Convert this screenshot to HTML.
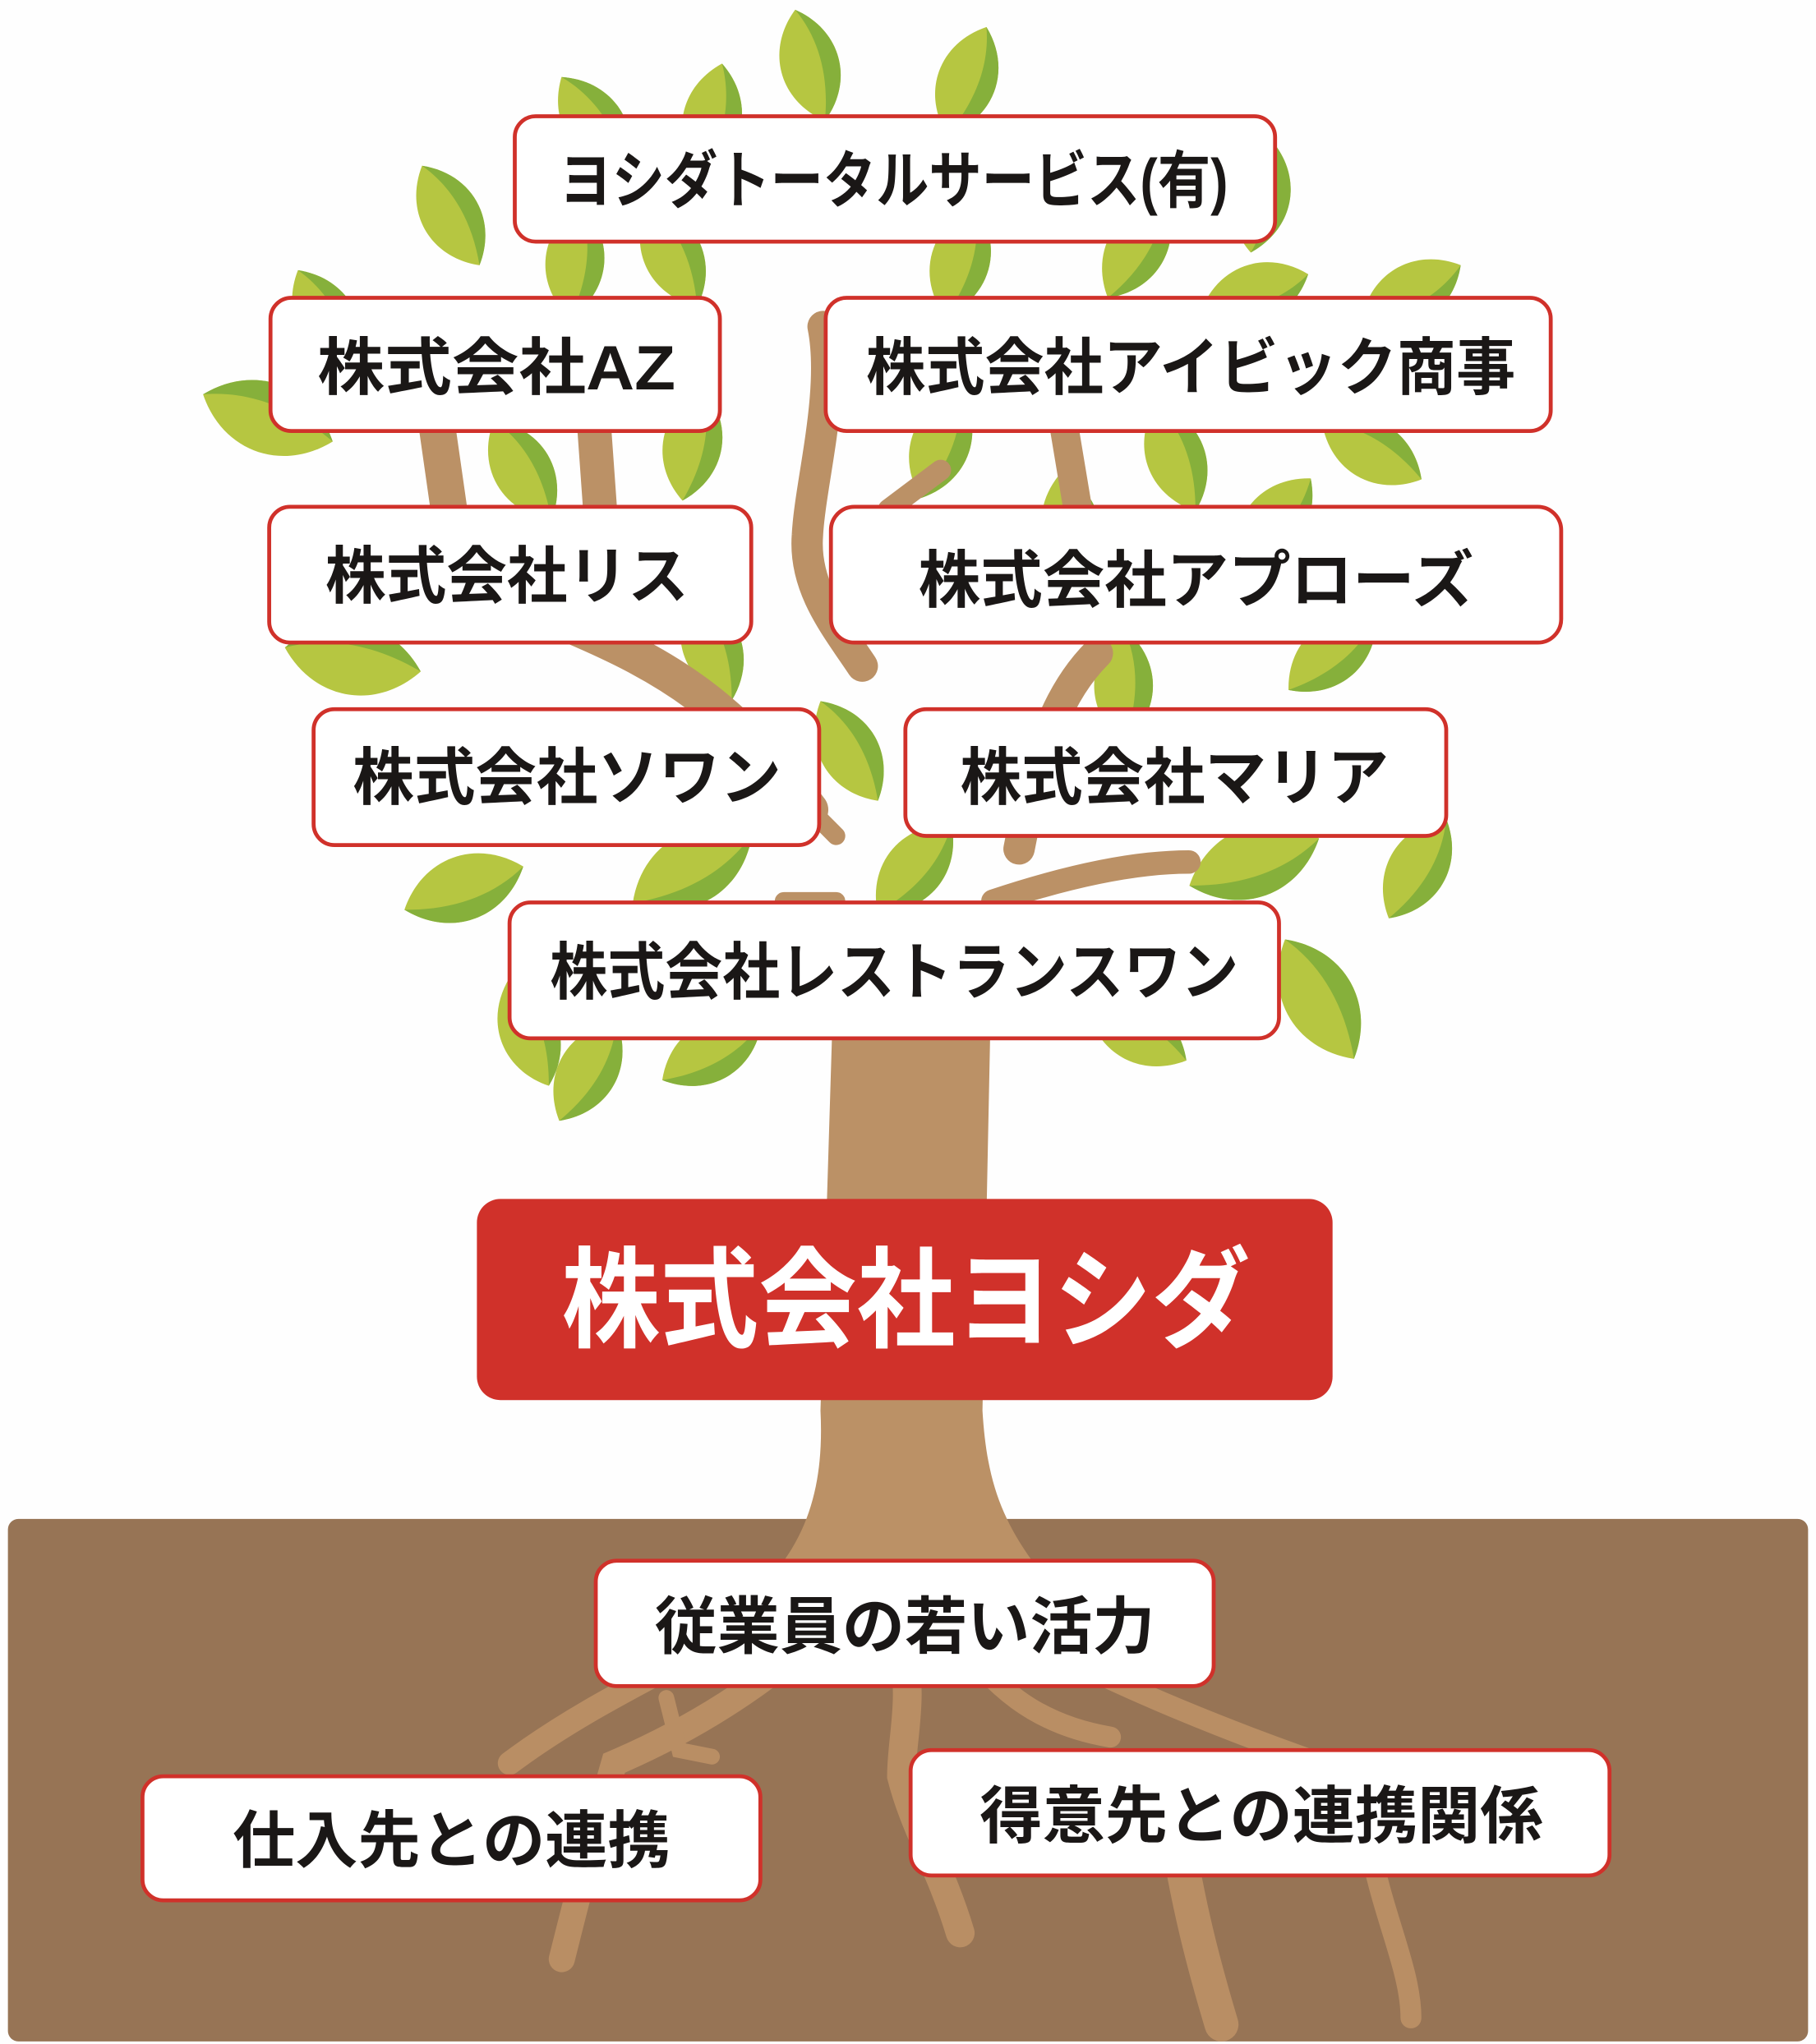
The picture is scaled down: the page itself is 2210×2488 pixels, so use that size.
<!DOCTYPE html>
<html><head><meta charset="utf-8"><style>
html,body{margin:0;padding:0;background:#fefefe;}
svg{display:block;}
text{font-family:"Liberation Sans","Noto Sans CJK JP",sans-serif;font-weight:bold;fill:#1a1716;}
</style></head><body>
<svg width="2210" height="2488" viewBox="0 0 1390 1565" xmlns="http://www.w3.org/2000/svg">
<defs>
<g id="lf">
<path d="M0,-44 C30,-20 30,20 0,44 C-30,20 -30,-20 0,-44Z" fill="#b6c641"/>
<path d="M0,-44 C30,-20 30,20 0,44 C12,12 12,-18 0,-44Z" fill="#86b03b"/>
</g>
</defs>
<rect width="1390" height="1565" fill="#fefefe"/>
<g>
<use href="#lf" transform="translate(620,50) rotate(-15)"/>
<use href="#lf" transform="translate(740,62) rotate(20)"/>
<use href="#lf" transform="translate(455,95) rotate(-35)"/>
<use href="#lf" transform="translate(545,92) rotate(10)"/>
<use href="#lf" transform="translate(345,165) rotate(-30)"/>
<use href="#lf" transform="translate(440,200) rotate(5)"/>
<use href="#lf" transform="translate(515,195) rotate(-25)"/>
<use href="#lf" transform="translate(735,200) rotate(15)"/>
<use href="#lf" transform="translate(870,190) rotate(30)"/>
<use href="#lf" transform="translate(965,150) rotate(10)"/>
<use href="#lf" transform="translate(960,225) rotate(70)"/>
<use href="#lf" transform="translate(1080,225) rotate(60)"/>
<use href="#lf" transform="translate(205,320) rotate(-70) scale(1.2)"/>
<use href="#lf" transform="translate(250,245) rotate(-30)"/>
<use href="#lf" transform="translate(530,340) rotate(10)"/>
<use href="#lf" transform="translate(400,360) rotate(-30)"/>
<use href="#lf" transform="translate(720,340) rotate(20)"/>
<use href="#lf" transform="translate(900,350) rotate(-20)"/>
<use href="#lf" transform="translate(1050,345) rotate(-60)"/>
<use href="#lf" transform="translate(975,400) rotate(40)"/>
<use href="#lf" transform="translate(820,405) rotate(-10)"/>
<use href="#lf" transform="translate(270,505) rotate(-80) scale(1.2)"/>
<use href="#lf" transform="translate(1020,500) rotate(50)"/>
<use href="#lf" transform="translate(860,525) rotate(0)"/>
<use href="#lf" transform="translate(545,495) rotate(-20)"/>
<use href="#lf" transform="translate(650,575) rotate(-30)"/>
<use href="#lf" transform="translate(960,660) rotate(70) scale(1.2)"/>
<use href="#lf" transform="translate(1085,665) rotate(30)"/>
<use href="#lf" transform="translate(355,680) rotate(70) scale(1.1)"/>
<use href="#lf" transform="translate(530,665) rotate(60) scale(1.2)"/>
<use href="#lf" transform="translate(700,665) rotate(40)"/>
<use href="#lf" transform="translate(1010,765) rotate(-30) scale(1.2)"/>
<use href="#lf" transform="translate(450,820) rotate(30)"/>
<use href="#lf" transform="translate(545,805) rotate(60)"/>
<use href="#lf" transform="translate(870,790) rotate(-60)"/>
<use href="#lf" transform="translate(405,790) rotate(-20)"/>
</g>
<g stroke="#bb9166" stroke-linecap="round" fill="none">
<path d="M335,330 L345,400" stroke-width="28"/>
<path d="M455,330 L460,400" stroke-width="26"/>
<path d="M630,250 C640,300 620,370 618,410 C615,450 640,480 660,510" stroke-width="24"/>
<path d="M815,330 L825,390" stroke-width="22"/>
<path d="M720,360 L680,390" stroke-width="16"/>
<path d="M440,480 C510,510 560,540 620,620" stroke-width="28"/>
<path d="M840,500 C800,540 790,600 780,650" stroke-width="24"/>
<path d="M610,610 L640,640" stroke-width="14"/>
<path d="M760,690 C820,670 870,660 910,660" stroke-width="18"/>
<path d="M640,690 L600,690" stroke-width="14"/>
</g>
<rect x="6" y="1163" width="1378" height="400" rx="8" fill="#977455"/>
<g stroke="#b98e64" stroke-linecap="round" fill="none">
<path d="M640,1200 C560,1260 470,1290 390,1350" stroke-width="18"/>
<path d="M660,1220 C600,1280 540,1320 470,1350 C450,1420 440,1460 430,1500" stroke-width="20"/>
<path d="M690,1260 C700,1300 690,1330 690,1360 C700,1400 720,1430 735,1480" stroke-width="22"/>
<path d="M730,1250 C760,1290 790,1320 850,1330" stroke-width="16"/>
<path d="M780,1250 C850,1290 950,1330 1040,1360" stroke-width="16"/>
<path d="M900,1400 C910,1460 920,1500 935,1550" stroke-width="26"/>
<path d="M1050,1420 C1060,1470 1080,1510 1080,1545" stroke-width="16"/>
<path d="M510,1300 L520,1340 L545,1345" stroke-width="12"/>
</g>
<path d="M640,690 L760,690 L752,1080 C755,1130 765,1160 790,1195 L600,1195 C625,1160 630,1120 628,1080 Z" fill="#bb9166"/>
<g fill="#ffffff" stroke="#d0312a" stroke-width="3">
<rect x="394" y="89" width="582" height="96" rx="16"/>
<rect x="207" y="228" width="344" height="102" rx="16"/>
<rect x="632" y="228" width="555" height="102" rx="16"/>
<rect x="206" y="388" width="369" height="104" rx="16"/>
<rect x="636" y="388" width="559" height="104" rx="18"/>
<rect x="240" y="543" width="387" height="104" rx="16"/>
<rect x="693" y="543" width="414" height="97" rx="16"/>
<rect x="390" y="691" width="589" height="104" rx="16"/>
<rect x="456" y="1195" width="473" height="96" rx="16"/>
<rect x="109" y="1360" width="473" height="95" rx="16"/>
<rect x="697" y="1340" width="535" height="96" rx="16"/>
</g>
<rect x="365" y="918" width="655" height="154" rx="18" fill="#d0312a"/>
<g font-size="48" lengthAdjust="spacingAndGlyphs">
<text x="428" y="155" textLength="512" lengthAdjust="spacingAndGlyphs">ヨシダトータルサービス(有)</text>
<text x="243" y="298" textLength="274" lengthAdjust="spacingAndGlyphs">株式会社AZ</text>
<text x="663" y="298" textLength="497" lengthAdjust="spacingAndGlyphs">株式会社アイビック商事</text>
<text x="249" y="458" textLength="278" lengthAdjust="spacingAndGlyphs">株式会社リス</text>
<text x="703" y="461" textLength="425" lengthAdjust="spacingAndGlyphs">株式会社アプローズ</text>
<text x="270" y="612" textLength="328" lengthAdjust="spacingAndGlyphs">株式会社ソワン</text>
<text x="735" y="612" textLength="328" lengthAdjust="spacingAndGlyphs">株式会社マリア</text>
<text x="421" y="761" textLength="527" lengthAdjust="spacingAndGlyphs">株式会社レストランスワン</text>
<text x="501" y="1262" textLength="383" lengthAdjust="spacingAndGlyphs">従業員の若い活力</text>
<text x="178" y="1426" textLength="335" lengthAdjust="spacingAndGlyphs">仕入先との連携</text>
<text x="750" y="1407" textLength="431" lengthAdjust="spacingAndGlyphs">得意先との連携関係</text>
</g>
<text x="430" y="1025" font-size="84" textLength="527" lengthAdjust="spacingAndGlyphs" style="fill:#ffffff">株式会社ヨシダ</text>
</svg>
</body></html>
